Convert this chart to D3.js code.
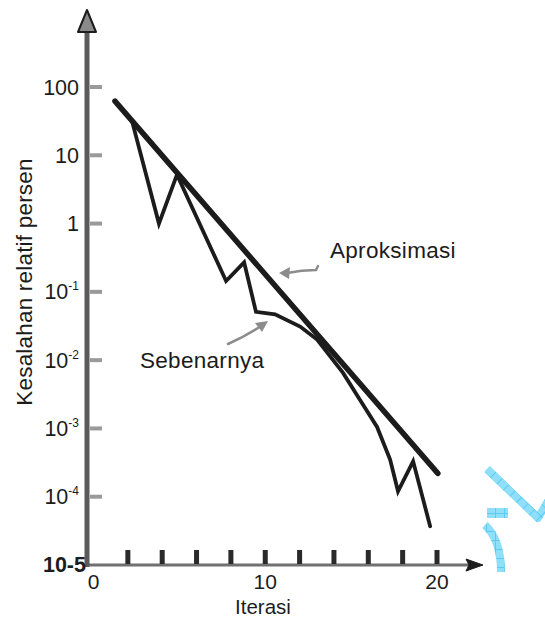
<!DOCTYPE html>
<html>
<head>
<meta charset="utf-8">
<script src="https://cdn.jsdelivr.net/npm/d3@7"></script>
<style>
  html, body { margin: 0; padding: 0; background: #fff; }
  svg { display: block; font-family: "Liberation Sans", Arial, sans-serif; }
</style>
</head>
<body>
<svg id="chart" width="545" height="619"></svg>
<script>
// True percent relative error per iteration
const iterasiSebenarnya = [1.25, 2.24, 3.81, 4.86, 7.72, 8.77, 9.46, 10.57, 12.03, 13.02, 14.53, 15.52, 16.51, 17.27, 17.73, 18.61, 19.6];
const galatSebenarnya   = [62, 32, 1.0, 5.2, 0.144, 0.27, 0.051, 0.047, 0.031, 0.020, 0.0065, 0.0026, 0.00105, 0.00035, 0.00012, 0.00033, 0.000037];

// Approximate percent relative error: a straight line on the log scale
const iterasiAproksimasi = [1.25, 20.05];
const galatAproksimasi   = [62, 0.00022];

// Axis ticks
const yTickValues = [100, 10, 1, 0.1, 0.01, 0.001, 0.0001];
const yTickBase   = ["100", "10", "1", "10", "10", "10", "10"];
const yTickExp    = ["", "", "", "-1", "-2", "-3", "-4"];
const yOriginLabel = "10-5";
const xTickMarks  = [2, 4, 6, 8, 10, 12, 14, 16, 18, 20];
const xTickLabels = [0, 10, 20];

const svg = d3.select("#chart");
const ink = "#1c1c1c";
const axisGray = "#5a5a5a";

const x = d3.scaleLinear().domain([0, 20]).range([93.5, 437]);
const y = d3.scaleLog().domain([1e-5, 100]).range([565, 87]);
const axisX = 87;          // position of the vertical axis
const axisY = y(1e-5);     // position of the horizontal axis

// ---- decorative cyan hatch shapes at the right edge ----
const defs = svg.append("defs");
function hatch(id, angle) {
  const p = defs.append("pattern")
    .attr("id", id).attr("patternUnits", "userSpaceOnUse")
    .attr("width", 9).attr("height", 9)
    .attr("patternTransform", `rotate(${angle})`);
  p.append("rect").attr("width", 9).attr("height", 9).attr("fill", "#8fdff9");
  p.append("path").attr("d", "M0,0.5H9M0.5,0V9").attr("stroke", "#5ccbf2").attr("stroke-width", 1);
}
hatch("hatch", 45);
hatch("hatch2", 0);

const deco = svg.append("g");
deco.append("path").attr("d", "M487,469 L538,518 L550,498")
  .attr("fill", "none").attr("stroke", "url(#hatch)").attr("stroke-width", 8).attr("stroke-linejoin", "round");
deco.append("rect").attr("x", 487).attr("y", 508).attr("width", 21).attr("height", 10).attr("fill", "url(#hatch2)");
deco.append("path").attr("d", "M485,525 Q501,540 501,572")
  .attr("fill", "none").attr("stroke", "url(#hatch2)").attr("stroke-width", 8);

// ---- axes ----
// horizontal axis line with arrow
svg.append("line")
  .attr("x1", axisX).attr("x2", 470).attr("y1", axisY).attr("y2", axisY)
  .attr("stroke", "#707070").attr("stroke-width", 3);
svg.append("path")
  .attr("d", `M483,${axisY} L466,${axisY - 6} L469,${axisY} L466,${axisY + 6} Z`)
  .attr("fill", ink).attr("stroke", ink).attr("stroke-width", 1);

// vertical axis line with arrow
svg.append("line")
  .attr("x1", axisX).attr("x2", axisX).attr("y1", axisY + 2).attr("y2", 26)
  .attr("stroke", axisGray).attr("stroke-width", 5);
svg.append("path")
  .attr("d", `M${axisX},10 L${axisX - 9},32 L${axisX + 9},32 Z`)
  .attr("fill", "#8a8a8a").attr("stroke", ink).attr("stroke-width", 2).attr("stroke-linejoin", "round");

// x tick marks: short thick bars standing on the axis
svg.append("g").selectAll("rect").data(xTickMarks).join("rect")
  .attr("x", d => x(d) - 2.5).attr("y", axisY - 15)
  .attr("width", 5).attr("height", 14)
  .attr("fill", "#2a2a2a");

// x tick labels
svg.append("g").selectAll("text").data(xTickLabels).join("text")
  .attr("x", d => x(d))
  .attr("y", 589)
  .attr("text-anchor", "middle")
  .attr("font-size", 21)
  .attr("fill", ink)
  .text(d => d);

// y tick marks
svg.append("g").selectAll("rect").data(yTickValues).join("rect")
  .attr("x", axisX + 3).attr("y", d => y(d) - 2)
  .attr("width", 12).attr("height", 4)
  .attr("fill", "#9a9a9a");

// y tick labels (with superscript exponents)
const yl = svg.append("g").selectAll("text").data(yTickValues).join("text")
  .attr("x", 79)
  .attr("y", d => y(d) + 7.5)
  .attr("text-anchor", "end")
  .attr("font-size", 21.5)
  .attr("fill", ink);
yl.append("tspan").text((d, i) => yTickBase[i]);
yl.append("tspan")
  .attr("font-size", 12)
  .attr("dy", -9)
  .text((d, i) => yTickExp[i]);

// label at the origin of the vertical axis
svg.append("text")
  .attr("x", 86).attr("y", axisY + 6.5)
  .attr("text-anchor", "end")
  .attr("font-size", 21.5)
  .attr("font-weight", "bold")
  .attr("fill", ink)
  .text(yOriginLabel);

// axis titles
svg.append("text")
  .attr("transform", `translate(32,${282}) rotate(-90)`)
  .attr("text-anchor", "middle")
  .attr("font-size", 22.5)
  .attr("letter-spacing", 0.2)
  .attr("fill", ink)
  .text("Kesalahan relatif persen");

svg.append("text")
  .attr("x", 263).attr("y", 613.5)
  .attr("text-anchor", "middle")
  .attr("font-size", 20.5)
  .attr("fill", ink)
  .text("Iterasi");

// ---- curves ----
const line = d3.line().x(d => x(d[0])).y(d => y(d[1]));

svg.append("path")
  .datum(d3.zip(iterasiSebenarnya, galatSebenarnya))
  .attr("d", line)
  .attr("fill", "none").attr("stroke", ink)
  .attr("stroke-width", 3.8).attr("stroke-linejoin", "miter").attr("stroke-linecap", "round");

svg.append("path")
  .datum(d3.zip(iterasiAproksimasi, galatAproksimasi))
  .attr("d", line)
  .attr("fill", "none").attr("stroke", ink)
  .attr("stroke-width", 5.5).attr("stroke-linecap", "round");

// ---- annotations ----
const gray = "#8c8c8c";
svg.append("text")
  .attr("x", 330).attr("y", 258)
  .attr("font-size", 22.5).attr("letter-spacing", 0.3).attr("fill", ink)
  .text("Aproksimasi");
svg.append("path")
  .attr("d", "M318,266 L316,270 Q302,270 287,273")
  .attr("fill", "none").attr("stroke", gray).attr("stroke-width", 2.5).attr("stroke-linecap", "round");
svg.append("path")
  .attr("d", "M279,273 L290,267 L289,279 Z")
  .attr("fill", gray);

svg.append("text")
  .attr("x", 140).attr("y", 368)
  .attr("font-size", 22.5).attr("letter-spacing", 0.3).attr("fill", ink)
  .text("Sebenarnya");
svg.append("path")
  .attr("d", "M228,344 Q246,336 261,326")
  .attr("fill", "none").attr("stroke", gray).attr("stroke-width", 2.5).attr("stroke-linecap", "round");
svg.append("path")
  .attr("d", "M268,321 L255,323 L262,332 Z")
  .attr("fill", gray);
</script>
</body>
</html>
